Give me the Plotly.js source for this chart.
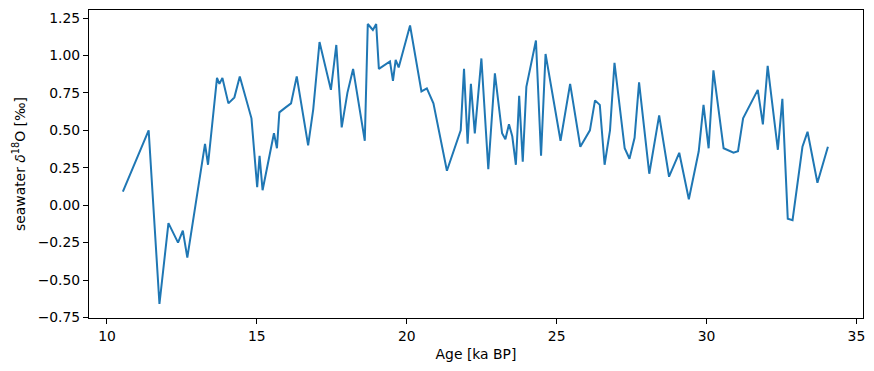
<!DOCTYPE html>
<html>
<head>
<meta charset="utf-8">
<script src="https://cdn.plot.ly/plotly-3.0.1.min.js"></script>
<style>html,body{margin:0;padding:0;background:#fff;}#chart{width:874px;height:371px;}</style>
</head>
<body>
<div id="chart"></div>
<script>
const ageKa = [10.53, 11.39, 11.75, 12.05, 12.37, 12.53, 12.68, 13.27, 13.37, 13.67, 13.75, 13.85, 14.05, 14.25, 14.43, 14.82, 15.01, 15.09, 15.19, 15.57, 15.67, 15.75, 15.94, 16.14, 16.33, 16.71, 16.88, 17.09, 17.47, 17.65, 17.83, 18.02, 18.21, 18.60, 18.70, 18.87, 18.98, 19.07, 19.44, 19.54, 19.63, 19.73, 20.11, 20.49, 20.67, 20.89, 21.34, 21.80, 21.91, 22.03, 22.14, 22.27, 22.49, 22.72, 22.94, 23.18, 23.29, 23.41, 23.52, 23.64, 23.75, 23.87, 23.99, 24.31, 24.48, 24.63, 25.13, 25.45, 25.79, 26.11, 26.28, 26.44, 26.60, 26.78, 26.93, 27.27, 27.43, 27.60, 27.75, 28.09, 28.42, 28.75, 29.09, 29.41, 29.74, 29.90, 30.07, 30.23, 30.57, 30.90, 31.05, 31.22, 31.71, 31.88, 32.04, 32.38, 32.53, 32.71, 32.87, 33.20, 33.37, 33.70, 34.05];
const d18O = [0.09, 0.50, -0.66, -0.12, -0.25, -0.17, -0.35, 0.41, 0.27, 0.85, 0.81, 0.85, 0.68, 0.72, 0.86, 0.58, 0.12, 0.33, 0.10, 0.48, 0.38, 0.62, 0.65, 0.68, 0.86, 0.40, 0.64, 1.09, 0.77, 1.07, 0.52, 0.75, 0.91, 0.43, 1.21, 1.17, 1.21, 0.91, 0.96, 0.83, 0.97, 0.92, 1.20, 0.76, 0.78, 0.68, 0.23, 0.50, 0.91, 0.41, 0.81, 0.48, 0.98, 0.24, 0.88, 0.48, 0.44, 0.54, 0.46, 0.27, 0.73, 0.29, 0.79, 1.10, 0.33, 1.01, 0.43, 0.81, 0.39, 0.50, 0.70, 0.67, 0.27, 0.50, 0.95, 0.38, 0.31, 0.45, 0.82, 0.21, 0.60, 0.19, 0.35, 0.04, 0.36, 0.67, 0.38, 0.90, 0.38, 0.35, 0.36, 0.58, 0.77, 0.54, 0.93, 0.37, 0.71, -0.09, -0.10, 0.39, 0.49, 0.15, 0.39];
const xTicks = [10, 15, 20, 25, 30, 35];
const yTicks = [-0.75, -0.5, -0.25, 0, 0.25, 0.5, 0.75, 1.0, 1.25];

const font = {family: 'DejaVu Sans', size: 13.9, color: '#000'};
const trace = {
  x: ageKa, y: d18O, type: 'scatter', mode: 'lines',
  line: {color: '#1f77b4', width: 2}, hoverinfo: 'skip'
};
const axisCommon = {
  showline: true, linecolor: '#000', linewidth: 1, mirror: true,
  ticks: 'outside', ticklen: 5, tickwidth: 1, tickcolor: '#000',
  showgrid: false, zeroline: false, tickfont: font
};
const layout = {
  width: 874, height: 371,
  margin: {l: 89, r: 11, t: 10, b: 53},
  paper_bgcolor: '#fff', plot_bgcolor: '#fff',
  showlegend: false, font: font,
  xaxis: Object.assign({}, axisCommon, {
    range: [9.40, 35.22], tickmode: 'array', tickvals: xTicks,
    ticktext: xTicks.map(String),
    title: {text: 'Age [ka BP]', font: font, standoff: 6}
  }),
  yaxis: Object.assign({}, axisCommon, {
    range: [-0.7535, 1.3035], tickmode: 'array', tickvals: yTicks,
    ticktext: yTicks.map(v => (v < 0 ? '\u2212' : '') + Math.abs(v).toFixed(2)),
    title: {text: 'seawater <i>\u03b4</i><sup>18</sup>O [\u2030]', font: font, standoff: 8}
  })
};
Plotly.newPlot('chart', [trace], layout, {staticPlot: true, displayModeBar: false});
</script>
</body>
</html>
